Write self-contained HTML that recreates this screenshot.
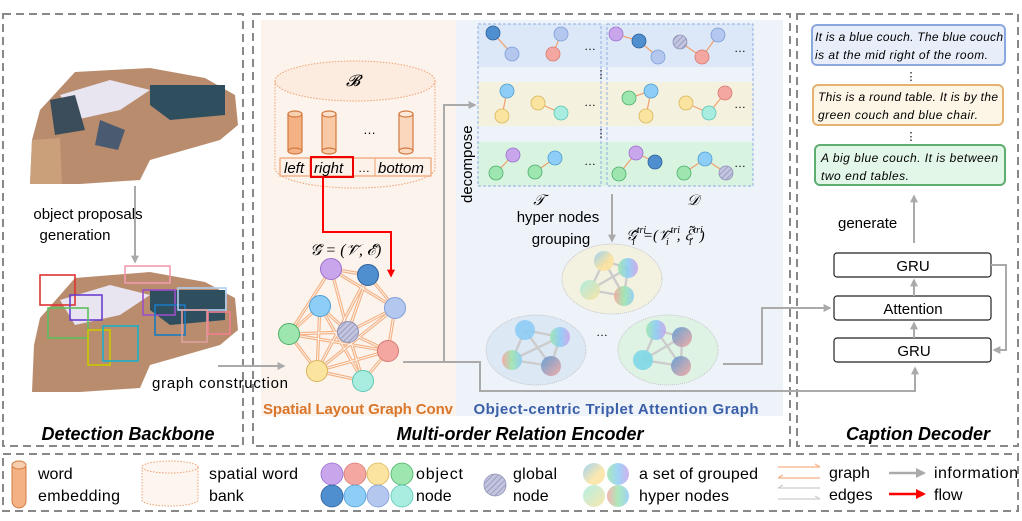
<!DOCTYPE html>
<html><head><meta charset="utf-8"><style>
html,body{margin:0;padding:0;background:#fff;}
svg{display:block;font-family:"Liberation Sans",sans-serif;}
</style></head><body>
<svg width="1022" height="521" viewBox="0 0 1022 521" xmlns="http://www.w3.org/2000/svg">
<defs>
<pattern id="hatch" width="4" height="4" patternUnits="userSpaceOnUse" patternTransform="rotate(45)">
<rect width="4" height="4" fill="#c3c5df"/><line x1="0" y1="0" x2="0" y2="4" stroke="#8f92b8" stroke-width="1.5"/></pattern>
<linearGradient id="g1" x1="0" y1="0" x2="1" y2="1"><stop offset="0" stop-color="#8ecdf5"/><stop offset="0.6" stop-color="#fbe3a0"/></linearGradient>
<linearGradient id="g2" x1="0" y1="0" x2="1" y2="0"><stop offset="0" stop-color="#9ee6b0"/><stop offset="0.5" stop-color="#8ecdf5"/><stop offset="1" stop-color="#c9a6ec"/></linearGradient>
<linearGradient id="g3" x1="0" y1="0" x2="1" y2="1"><stop offset="0" stop-color="#a8ede0"/><stop offset="1" stop-color="#fbe3a0"/></linearGradient>
<linearGradient id="g4" x1="0" y1="0" x2="1" y2="0"><stop offset="0" stop-color="#f4a7a0"/><stop offset="0.5" stop-color="#9ee6b0"/><stop offset="1" stop-color="#8ecdf5"/></linearGradient>
<linearGradient id="g5" x1="0" y1="0" x2="1" y2="1"><stop offset="0" stop-color="#5b9bd5"/><stop offset="1" stop-color="#f4a7a0"/></linearGradient>
<marker id="ag" viewBox="0 0 10 10" refX="8" refY="5" markerWidth="4" markerHeight="4" orient="auto"><path d="M0,0L10,5L0,10z" fill="#aaa"/></marker>
<marker id="ar" viewBox="0 0 10 10" refX="8" refY="5" markerWidth="4" markerHeight="4" orient="auto"><path d="M0,0L10,5L0,10z" fill="#f00"/></marker>
</defs>

<!-- panels -->
<g fill="none" stroke="#888" stroke-width="2" stroke-dasharray="8,5">
<rect x="3" y="14" width="240" height="432"/>
<rect x="253" y="14" width="537" height="432"/>
<rect x="797" y="14" width="221" height="432"/>
<rect x="3" y="454" width="1015" height="57"/>
</g>
<rect x="261" y="20" width="195" height="396" fill="#fbf3ec"/>
<rect x="456" y="20" width="327" height="396" fill="#eef3fa"/>

<!-- Detection images -->
<g>
<path d="M40,110 L75,72 L150,68 L205,78 L235,95 L238,125 L220,140 L150,160 L140,180 L80,184 L30,184 L32,140 Z" fill="#b98c6e"/>
<path d="M60,95 L110,80 L150,90 L120,110 L75,120 Z" fill="#e8e4f0"/>
<path d="M150,85 L225,85 L225,115 L170,120 L150,105 Z" fill="#2f4f5f"/>
<path d="M50,100 L75,95 L85,130 L55,135 Z" fill="#3b4d5a"/>
<path d="M100,120 L125,130 L118,150 L95,145 Z" fill="#4a5a70"/>
<path d="M32,140 L60,138 L62,184 L30,184 Z" fill="#c9a07a"/>
<path d="M40,318 L75,278 L150,272 L205,282 L235,298 L238,330 L220,345 L150,365 L140,388 L80,392 L32,392 L34,345 Z" fill="#b98c6e"/>
<path d="M150,290 L225,290 L225,320 L170,325 L150,310 Z" fill="#2f4f5f"/>
<path d="M60,300 L110,285 L150,295 L120,315 L75,325 Z" fill="#e8e4f0"/>
<g fill="none" stroke-width="1.6">
<rect x="40" y="275" width="35" height="30" stroke="#d33"/>
<rect x="70" y="295" width="32" height="25" stroke="#6a3fcf"/>
<rect x="48" y="308" width="40" height="30" stroke="#5cc05c"/>
<rect x="88" y="330" width="22" height="35" stroke="#c8c800"/>
<rect x="103" y="326" width="35" height="35" stroke="#1bb0c8"/>
<rect x="125" y="266" width="45" height="17" stroke="#f29ab0"/>
<rect x="143" y="290" width="32" height="25" stroke="#9a4fc8"/>
<rect x="155" y="305" width="30" height="30" stroke="#1a7ac0"/>
<rect x="178" y="288" width="48" height="22" stroke="#b0d0f0"/>
<rect x="182" y="310" width="25" height="32" stroke="#e0a0a0"/>
<rect x="208" y="312" width="22" height="22" stroke="#f08090"/>
</g>
</g>
<line x1="135" y1="186" x2="135" y2="262" stroke="#aaa" stroke-width="2" marker-end="url(#ag)"/>
<text x="88" y="219" font-size="15" text-anchor="middle">object proposals</text>
<text x="75" y="240" font-size="15" text-anchor="middle">generation</text>
<text x="128" y="440" font-size="18" font-weight="bold" font-style="italic" text-anchor="middle">Detection Backbone</text>

<!-- graph construction -->
<line x1="218" y1="366" x2="284" y2="366" stroke="#aaa" stroke-width="2" marker-end="url(#ag)"/>
<text x="152" y="388" font-size="15" textLength="136">graph construction</text>

<!-- word bank cylinder -->
<g fill="none" stroke="#f0a070" stroke-width="1" stroke-dasharray="1.5,1.5">
<ellipse cx="355" cy="81" rx="80" ry="20" fill="#fcece0"/>
<path d="M275,81 L275,168 A80,20 0 0 0 435,168 L435,81"/>
</g>
<text x="353" y="86" font-size="16" font-style="italic" font-family="Liberation Serif" text-anchor="middle">𝓑</text>
<g stroke="#d27a40" stroke-width="1.2">
<rect x="288" y="114" width="14" height="37" fill="#f4b183"/><ellipse cx="295" cy="114" rx="7" ry="3" fill="#f8cfae"/><ellipse cx="295" cy="151" rx="7" ry="3" fill="#f4b183"/>
<rect x="322" y="114" width="14" height="37" fill="#f8c9a4"/><ellipse cx="329" cy="114" rx="7" ry="3" fill="#fbe0cb"/><ellipse cx="329" cy="151" rx="7" ry="3" fill="#f8c9a4"/>
<rect x="399" y="114" width="14" height="37" fill="#fad7bd"/><ellipse cx="406" cy="114" rx="7" ry="3" fill="#fde9da"/><ellipse cx="406" cy="151" rx="7" ry="3" fill="#fad7bd"/>
</g>
<text x="363" y="134" font-size="13">…</text>
<rect x="280" y="158" width="151" height="18" fill="#fdf2ea" stroke="#f0a070" stroke-width="1.2"/>
<line x1="310" y1="158" x2="310" y2="176" stroke="#f0a070"/><line x1="375" y1="158" x2="375" y2="176" stroke="#f0a070"/>
<rect x="311" y="157" width="42" height="20" fill="none" stroke="#e00" stroke-width="2"/>
<g font-size="15" font-style="italic"><text x="284" y="173">left</text><text x="314" y="173">right</text><text x="358" y="172" font-size="12" font-style="normal">…</text><text x="378" y="173">bottom</text></g>
<polyline points="323,177 323,232 391,232 391,276" fill="none" stroke="#f00" stroke-width="2" marker-end="url(#ar)"/>
<text x="310" y="255" font-size="16" font-family="Liberation Serif" font-style="italic">𝒢̃ = (𝒱̃, ℰ̃)</text>

<!-- graph -->
<g stroke="#f4b183" stroke-width="3.2">
<line x1="331" y1="269" x2="368" y2="275"/><line x1="331" y1="269" x2="289" y2="334"/><line x1="331" y1="269" x2="348" y2="332"/><line x1="331" y1="269" x2="395" y2="308"/>
<line x1="368" y1="275" x2="395" y2="308"/><line x1="368" y1="275" x2="348" y2="332"/><line x1="368" y1="275" x2="317" y2="371"/>
<line x1="320" y1="306" x2="289" y2="334"/><line x1="320" y1="306" x2="348" y2="332"/><line x1="320" y1="306" x2="317" y2="371"/><line x1="320" y1="306" x2="363" y2="381"/>
<line x1="395" y1="308" x2="348" y2="332"/><line x1="395" y1="308" x2="388" y2="351"/><line x1="395" y1="308" x2="317" y2="371"/>
<line x1="289" y1="334" x2="348" y2="332"/><line x1="289" y1="334" x2="317" y2="371"/><line x1="289" y1="334" x2="388" y2="351"/>
<line x1="348" y1="332" x2="388" y2="351"/><line x1="348" y1="332" x2="363" y2="381"/><line x1="317" y1="371" x2="363" y2="381"/><line x1="388" y1="351" x2="363" y2="381"/><line x1="388" y1="351" x2="317" y2="371"/>
</g>
<g stroke="#fbf3ec" stroke-width="1">
<line x1="331" y1="269" x2="368" y2="275"/><line x1="331" y1="269" x2="289" y2="334"/><line x1="331" y1="269" x2="348" y2="332"/><line x1="331" y1="269" x2="395" y2="308"/>
<line x1="368" y1="275" x2="395" y2="308"/><line x1="368" y1="275" x2="348" y2="332"/><line x1="368" y1="275" x2="317" y2="371"/>
<line x1="320" y1="306" x2="289" y2="334"/><line x1="320" y1="306" x2="348" y2="332"/><line x1="320" y1="306" x2="317" y2="371"/><line x1="320" y1="306" x2="363" y2="381"/>
<line x1="395" y1="308" x2="348" y2="332"/><line x1="395" y1="308" x2="388" y2="351"/><line x1="395" y1="308" x2="317" y2="371"/>
<line x1="289" y1="334" x2="348" y2="332"/><line x1="289" y1="334" x2="317" y2="371"/><line x1="289" y1="334" x2="388" y2="351"/>
<line x1="348" y1="332" x2="388" y2="351"/><line x1="348" y1="332" x2="363" y2="381"/><line x1="317" y1="371" x2="363" y2="381"/><line x1="388" y1="351" x2="363" y2="381"/><line x1="388" y1="351" x2="317" y2="371"/>
</g>
<g stroke-width="1">
<circle cx="331" cy="269" r="10.5" fill="#c9a6ec" stroke="#9b6fcf"/>
<circle cx="368" cy="275" r="10.5" fill="#4f8fd0" stroke="#2e5f9a"/>
<circle cx="320" cy="306" r="10.5" fill="#8ecdf5" stroke="#4e9fd5"/>
<circle cx="395" cy="308" r="10.5" fill="#b4c7ef" stroke="#7f9ed9"/>
<circle cx="289" cy="334" r="10.5" fill="#9ee6b0" stroke="#4cae68"/>
<circle cx="348" cy="332" r="10.5" fill="url(#hatch)" stroke="#8f92b8"/>
<circle cx="388" cy="351" r="10.5" fill="#f4a7a0" stroke="#d77b73"/>
<circle cx="317" cy="371" r="10.5" fill="#fbe3a0" stroke="#d9b55a"/>
<circle cx="363" cy="381" r="10.5" fill="#a8ede0" stroke="#5cc6b5"/>
</g>

<!-- flows -->
<g fill="none" stroke="#aaa" stroke-width="2">
<polyline points="403,362 480,362 480,391 915,391 915,368" marker-end="url(#ag)"/>
<polyline points="444,362 444,105 475,105" marker-end="url(#ag)"/>
<polyline points="723,364 762,364 762,308 830,308" marker-end="url(#ag)"/>
<line x1="612" y1="194" x2="612" y2="241" marker-end="url(#ag)"/>
</g>
<text x="0" y="0" font-size="15" transform="translate(472,203) rotate(-90)">decompose</text>

<!-- decomposition grid -->
<rect x="478" y="24" width="275" height="43" fill="#dce8f7"/>
<rect x="478" y="82" width="275" height="44" fill="#f5f1df"/>
<rect x="478" y="142" width="275" height="44" fill="#d8f3e0"/>
<g fill="none" stroke="#8eaee0" stroke-dasharray="3,2"><rect x="478" y="24" width="123" height="162"/><rect x="607" y="24" width="146" height="162"/></g>
<text x="601" y="78" font-size="11" text-anchor="middle">⋮</text><text x="601" y="137" font-size="11" text-anchor="middle">⋮</text>
<g stroke="#f0a070" stroke-width="1.2">
<line x1="493" y1="33" x2="512" y2="54"/><line x1="561" y1="34" x2="553" y2="54"/>
<line x1="616" y1="34" x2="639" y2="41"/><line x1="639" y1="41" x2="658" y2="57"/><line x1="680" y1="42" x2="702" y2="57"/><line x1="702" y1="57" x2="718" y2="35"/>
<line x1="507" y1="91" x2="502" y2="116"/><line x1="538" y1="103" x2="561" y2="113"/>
<line x1="629" y1="98" x2="651" y2="91"/><line x1="651" y1="91" x2="646" y2="116"/><line x1="686" y1="103" x2="709" y2="113"/><line x1="709" y1="113" x2="725" y2="93"/>
<line x1="513" y1="155" x2="496" y2="173"/><line x1="555" y1="158" x2="535" y2="172"/>
<line x1="619" y1="174" x2="636" y2="153"/><line x1="636" y1="153" x2="655" y2="162"/><line x1="684" y1="173" x2="705" y2="159"/><line x1="705" y1="159" x2="726" y2="173"/>
</g>
<g stroke-width="0.8">
<circle cx="493" cy="33" r="7" fill="#4f8fd0" stroke="#2e5f9a"/><circle cx="512" cy="54" r="7" fill="#b4c7ef" stroke="#7f9ed9"/>
<circle cx="561" cy="34" r="7" fill="#b4c7ef" stroke="#7f9ed9"/><circle cx="553" cy="54" r="7" fill="#f4a7a0" stroke="#d77b73"/>
<circle cx="616" cy="34" r="7" fill="#c9a6ec" stroke="#9b6fcf"/><circle cx="639" cy="41" r="7" fill="#4f8fd0" stroke="#2e5f9a"/><circle cx="658" cy="57" r="7" fill="#b4c7ef" stroke="#7f9ed9"/>
<circle cx="680" cy="42" r="7" fill="url(#hatch)" stroke="#8f92b8"/><circle cx="702" cy="57" r="7" fill="#f4a7a0" stroke="#d77b73"/><circle cx="718" cy="35" r="7" fill="#b4c7ef" stroke="#7f9ed9"/>
<circle cx="507" cy="91" r="7" fill="#8ecdf5" stroke="#4e9fd5"/><circle cx="502" cy="116" r="7" fill="#fbe3a0" stroke="#d9b55a"/>
<circle cx="538" cy="103" r="7" fill="#fbe3a0" stroke="#d9b55a"/><circle cx="561" cy="113" r="7" fill="#a8ede0" stroke="#5cc6b5"/>
<circle cx="629" cy="98" r="7" fill="#9ee6b0" stroke="#4cae68"/><circle cx="651" cy="91" r="7" fill="#8ecdf5" stroke="#4e9fd5"/><circle cx="646" cy="116" r="7" fill="#fbe3a0" stroke="#d9b55a"/>
<circle cx="686" cy="103" r="7" fill="#fbe3a0" stroke="#d9b55a"/><circle cx="709" cy="113" r="7" fill="#a8ede0" stroke="#5cc6b5"/><circle cx="725" cy="93" r="7" fill="#f4a7a0" stroke="#d77b73"/>
<circle cx="513" cy="155" r="7" fill="#c9a6ec" stroke="#9b6fcf"/><circle cx="496" cy="173" r="7" fill="#9ee6b0" stroke="#4cae68"/>
<circle cx="555" cy="158" r="7" fill="#8ecdf5" stroke="#4e9fd5"/><circle cx="535" cy="172" r="7" fill="#9ee6b0" stroke="#4cae68"/>
<circle cx="619" cy="174" r="7" fill="#9ee6b0" stroke="#4cae68"/><circle cx="636" cy="153" r="7" fill="#c9a6ec" stroke="#9b6fcf"/><circle cx="655" cy="162" r="7" fill="#4f8fd0" stroke="#2e5f9a"/>
<circle cx="684" cy="173" r="7" fill="#9ee6b0" stroke="#4cae68"/><circle cx="705" cy="159" r="7" fill="#8ecdf5" stroke="#4e9fd5"/><circle cx="726" cy="173" r="7" fill="url(#hatch)" stroke="#8f92b8"/>
</g>
<g font-size="12"><text x="584" y="50">…</text><text x="734" y="52">…</text><text x="584" y="106">…</text><text x="734" y="108">…</text><text x="584" y="165">…</text><text x="734" y="167">…</text></g>
<text x="539" y="205" font-size="15" font-family="Liberation Serif" font-style="italic" text-anchor="middle">𝒯</text>
<text x="693" y="205" font-size="15" font-family="Liberation Serif" font-style="italic" text-anchor="middle">𝒟</text>
<text x="558" y="222" font-size="15" text-anchor="middle">hyper nodes</text>
<text x="561" y="244" font-size="15" text-anchor="middle">grouping</text>
<text x="626" y="240" font-size="15" font-family="Liberation Serif" font-style="italic">𝒢̃<tspan font-size="10" dy="-7">tri</tspan><tspan font-size="10" dx="-14" dy="12">i</tspan><tspan dy="-5" dx="8">=(𝒱̃</tspan><tspan font-size="10" dy="-7">tri</tspan><tspan font-size="10" dx="-14" dy="12">i</tspan><tspan dy="-5" dx="8">, ℰ̃</tspan><tspan font-size="10" dy="-7">tri</tspan><tspan font-size="10" dx="-14" dy="12">i</tspan><tspan dy="-5" dx="8">)</tspan></text>

<!-- hyper groups -->
<g stroke="#bbb" stroke-dasharray="1,1" stroke-width="0.8">
<ellipse cx="612" cy="279" rx="50" ry="35" fill="#f3f1e0"/>
<ellipse cx="536" cy="350" rx="50" ry="35" fill="#dde8f5"/>
<ellipse cx="668" cy="350" rx="50" ry="35" fill="#dff3e5"/>
</g>
<g stroke="#ccc" stroke-width="2.4">
<line x1="604" y1="261" x2="628" y2="268"/><line x1="604" y1="261" x2="590" y2="290"/><line x1="604" y1="261" x2="624" y2="296"/><line x1="628" y1="268" x2="590" y2="290"/><line x1="628" y1="268" x2="624" y2="296"/><line x1="590" y1="290" x2="624" y2="296"/>
<line x1="525" y1="330" x2="560" y2="337"/><line x1="525" y1="330" x2="512" y2="360"/><line x1="525" y1="330" x2="551" y2="366"/><line x1="560" y1="337" x2="512" y2="360"/><line x1="560" y1="337" x2="551" y2="366"/><line x1="512" y1="360" x2="551" y2="366"/>
<line x1="656" y1="330" x2="682" y2="337"/><line x1="656" y1="330" x2="643" y2="360"/><line x1="656" y1="330" x2="681" y2="366"/><line x1="682" y1="337" x2="643" y2="360"/><line x1="682" y1="337" x2="681" y2="366"/><line x1="643" y1="360" x2="681" y2="366"/>
</g>
<g opacity="0.9">
<circle cx="604" cy="261" r="10" fill="url(#g1)"/><circle cx="628" cy="268" r="10" fill="url(#g2)"/><circle cx="590" cy="290" r="10" fill="url(#g3)"/><circle cx="624" cy="296" r="10" fill="url(#g4)"/>
<circle cx="525" cy="330" r="10" fill="#8ecdf5"/><circle cx="560" cy="337" r="10" fill="url(#g2)"/><circle cx="512" cy="360" r="10" fill="url(#g4)"/><circle cx="551" cy="366" r="10" fill="url(#g5)"/>
<circle cx="656" cy="330" r="10" fill="url(#g2)"/><circle cx="682" cy="337" r="10" fill="url(#g5)"/><circle cx="643" cy="360" r="10" fill="#7fd8e8"/><circle cx="681" cy="366" r="10" fill="url(#g5)"/>
</g>
<text x="596" y="336" font-size="12">…</text>

<text x="358" y="414" font-size="15" font-weight="bold" fill="#d9762a" text-anchor="middle" textLength="190">Spatial Layout Graph Conv</text>
<text x="616" y="414" font-size="15" font-weight="bold" fill="#3a5fa8" text-anchor="middle" textLength="285">Object-centric Triplet Attention Graph</text>
<text x="520" y="440" font-size="18" font-weight="bold" font-style="italic" text-anchor="middle">Multi-order Relation Encoder</text>

<!-- decoder -->
<rect x="812" y="25" width="193" height="40" rx="5" fill="#e8eef9" stroke="#8aa8dd" stroke-width="2"/>
<rect x="813" y="85" width="190" height="40" rx="5" fill="#fdf6e6" stroke="#e3b36f" stroke-width="2"/>
<rect x="815" y="145" width="190" height="40" rx="5" fill="#e3f7e8" stroke="#5fad70" stroke-width="2"/>
<g font-size="12" font-style="italic">
<text x="815" y="41" textLength="188">It is a blue couch. The blue couch</text><text x="815" y="59" textLength="173">is at the mid right of the room.</text>
<text x="818" y="101" textLength="180">This is a round table. It is by the</text><text x="818" y="119" textLength="160">green couch and blue chair.</text>
<text x="821" y="162" textLength="177">A big blue couch. It is between</text><text x="821" y="180" textLength="88">two end tables.</text>
</g>
<text x="911" y="80" font-size="11" text-anchor="middle">⋮</text><text x="911" y="140" font-size="11" text-anchor="middle">⋮</text>
<line x1="914" y1="243" x2="914" y2="196" stroke="#aaa" stroke-width="2" marker-end="url(#ag)"/>
<text x="838" y="228" font-size="15">generate</text>
<g fill="#fff" stroke="#222" stroke-width="1.2">
<rect x="834" y="253" width="157" height="24" rx="3"/><rect x="834" y="296" width="157" height="24" rx="3"/><rect x="834" y="338" width="157" height="24" rx="3"/>
</g>
<g font-size="15" text-anchor="middle"><text x="913" y="271">GRU</text><text x="913" y="314">Attention</text><text x="914" y="356">GRU</text></g>
<g stroke="#aaa" stroke-width="2" fill="none">
<line x1="914" y1="296" x2="914" y2="280" marker-end="url(#ag)"/>
<line x1="914" y1="338" x2="914" y2="323" marker-end="url(#ag)"/>
<polyline points="991,265 1006,265 1006,350 994,350" marker-end="url(#ag)"/>
</g>
<text x="918" y="440" font-size="18" font-weight="bold" font-style="italic" text-anchor="middle">Caption Decoder</text>

<!-- legend -->
<rect x="12" y="461" width="14" height="47" rx="7" fill="#f4b183" stroke="#d27a40"/>
<ellipse cx="19" cy="465" rx="7" ry="4" fill="#f8cfae" stroke="#d27a40"/>
<g font-size="16"><text x="38" y="479">word</text><text x="38" y="501" textLength="82">embedding</text></g>
<g fill="#fdf6f0" stroke="#f0a070" stroke-dasharray="1.5,1.5"><path d="M142,467 L142,500 A28,6 0 0 0 198,500 L198,467"/><ellipse cx="170" cy="467" rx="28" ry="6"/></g>
<g font-size="16"><text x="209" y="479" textLength="89">spatial word</text><text x="209" y="501">bank</text></g>
<g stroke-width="0.8">
<circle cx="332" cy="474" r="11" fill="#c9a6ec" stroke="#9b6fcf"/><circle cx="355" cy="474" r="11" fill="#f4a7a0" stroke="#d77b73"/><circle cx="378" cy="474" r="11" fill="#fbe3a0" stroke="#d9b55a"/><circle cx="402" cy="474" r="11" fill="#9ee6b0" stroke="#4cae68"/>
<circle cx="332" cy="496" r="11" fill="#4f8fd0" stroke="#2e5f9a"/><circle cx="355" cy="496" r="11" fill="#8ecdf5" stroke="#4e9fd5"/><circle cx="378" cy="496" r="11" fill="#b4c7ef" stroke="#7f9ed9"/><circle cx="402" cy="496" r="11" fill="#a8ede0" stroke="#5cc6b5"/>
<circle cx="495" cy="485" r="11" fill="url(#hatch)" stroke="#8f92b8"/>
</g>
<g font-size="16"><text x="416" y="479" textLength="47">object</text><text x="416" y="501">node</text><text x="513" y="479" textLength="44">global</text><text x="513" y="501">node</text></g>
<g opacity="0.85"><circle cx="594" cy="474" r="11" fill="url(#g1)"/><circle cx="618" cy="474" r="11" fill="url(#g2)"/><circle cx="594" cy="496" r="11" fill="url(#g3)"/><circle cx="618" cy="496" r="11" fill="url(#g4)"/></g>
<g font-size="16"><text x="639" y="479" textLength="119">a set of grouped</text><text x="639" y="501" textLength="90">hyper nodes</text></g>
<g stroke-width="1.3" fill="none">
<path d="M778,467 L820,467 M815,464 L820,467" stroke="#f4b183"/><path d="M778,478 L820,478 M783,475 L778,478" stroke="#f4b183"/>
<path d="M778,488 L820,488 M783,485 L778,488" stroke="#ccc"/><path d="M778,499 L820,499 M815,496 L820,499" stroke="#ccc"/>
</g>
<g font-size="16"><text x="829" y="478">graph</text><text x="829" y="500">edges</text></g>
<line x1="889" y1="473" x2="924" y2="473" stroke="#aaa" stroke-width="2.5" marker-end="url(#ag)"/>
<line x1="889" y1="494" x2="924" y2="494" stroke="#f00" stroke-width="2.5" marker-end="url(#ar)"/>
<g font-size="16"><text x="934" y="478" textLength="84">information</text><text x="934" y="500">flow</text></g>
</svg>
</body></html>
